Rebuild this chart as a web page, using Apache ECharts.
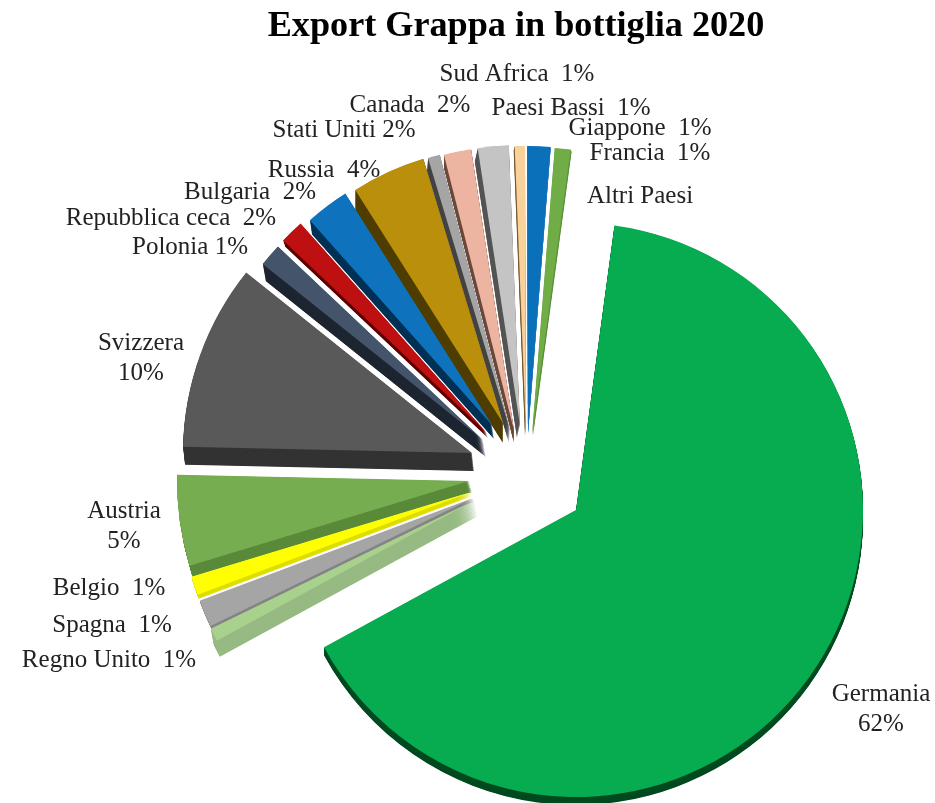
<!DOCTYPE html>
<html><head><meta charset="utf-8">
<script src="https://cdn.jsdelivr.net/npm/echarts@6/dist/echarts.min.js"></script>
<style>html,body{margin:0;padding:0;background:#fff}#c{width:935px;height:803px}</style>
</head><body><div id="c"></div>
<script>
// Data, clockwise from the Germania slice
const categories = ['Germania','Regno Unito','Spagna','Belgio','Austria','Svizzera','Polonia','Repubblica ceca','Bulgaria','Russia','Stati Uniti','Canada','Sud Africa','Paesi Bassi','Giappone','Francia','Altri Paesi'];
const sliceShares = [64.92,0.72,1.50,1.03,5.03,10.39,1.31,1.39,2.58,4.33,0.69,1.56,1.78,0.58,1.31,0.89,0];
const labelTexts = ['Germania\n62%','Regno Unito  1%','Spagna  1%','Belgio  1%','Austria\n5%','Svizzera\n10%','Polonia 1%','Repubblica ceca  2%','Bulgaria  2%','Russia  4%','Stati Uniti 2%','Canada  2%','Sud Africa  1%','Paesi Bassi  1%','Giappone  1%','Francia  1%','Altri Paesi'];

// Layout and style, separate from the data
const firstAngle = 7.7;
const apex = [[576,510],[475,500],[473,498],[471,492],[469,481],[472,453],[483,440],[486,432],[492,425],[503,423],[510,430],[514,430],[520,425],[526,432],[528,432],[532,434],[532,434]];
const radii = [287,294,292,292,292,289,282,279,274,276,284,284,280,286,286,287,287];
const tops = ['#07AB50','#A9D18E','#A5A5A5','#FFFF00','#76AD50','#595959','#44546A','#BE1010','#0E72BC','#BA8F0C','#A5A5A5','#EDB5A1','#C4C4C4','#F8D29A','#0B70BA','#70AD47','#70AD47'];
const sides = ['#004A20','#97BA83','#858585','#DDDD00','#5A8A3A','#333333','#1C2530','#5E0000','#003054','#4F3D00','#444444','#6B4A3E','#555555','#7A5A30','#3F86C4','#5C9038','#5C9038'];
const depth = [[0,8],[3,16],[1,3],[1,4],[3,11],[2,18],[3,17],[2,6],[2,14],[0,20],[-1,13],[0,13],[-3,13],[-1,4],[0,2],[1,2],[0,0]];
const labelAt = [[881,708],[109,659],[112,624],[109,587],[124,525],[141,357],[190,246],[171,217],[250,191],[324,169],[344,129],[410,104],[517,73],[571,107],[640,127],[650,152],[640,195]];
const fontFamily = '"Liberation Serif", serif';

function wedge(i, cx, cy, color, z) {
  const start = firstAngle + sliceShares.slice(0,i).reduce((a,b)=>a+b,0)*3.6;
  return {
    type:'pie', silent:true, animation:false, z:z, clockwise:true,
    center:[cx,cy], radius:[0,radii[i]], startAngle:90-start, minAngle:0,
    avoidLabelOverlap:false, stillShowZeroSum:true,
    emphasis:{disabled:true},
    label:{show:false}, labelLine:{show:false},
    data:[
      {name:categories[i], value:sliceShares[i], itemStyle:{color:color, borderWidth:0}},
      {name:'', value:100-sliceShares[i], itemStyle:{color:'rgba(0,0,0,0)', borderWidth:0}}
    ]
  };
}

const series = [];
categories.forEach((c,i)=>{
  const [dx,dy] = depth[i];
  const steps = Math.ceil(dy/0.6);
  for (let s=steps; s>=1; s--) {
    series.push(wedge(i, apex[i][0]+dx*s/steps, apex[i][1]+dy*s/steps, sides[i], 2+i*0.01));
  }
});
categories.forEach((c,i)=>{
  series.push(wedge(i, apex[i][0], apex[i][1], tops[i], 3));
});

const labels = categories.map((c,i)=>({
  type:'text', x:labelAt[i][0], y:labelAt[i][1]+1, z:10, silent:true,
  style:{text:labelTexts[i], fill:'#222', font:'25px '+fontFamily, lineHeight:30, align:'center', verticalAlign:'middle'}
}));

const chart = echarts.init(document.getElementById('c'), null, {renderer:'canvas'});
chart.setOption({
  backgroundColor:'#fff', animation:false,
  title:{text:'Export Grappa in bottiglia 2020', left:511, top:4, textAlign:'center',
    textStyle:{fontFamily:fontFamily, fontWeight:'bold', fontSize:36.2, color:'#000'}},
  series:series,
  graphic:{elements:labels}
});
</script></body></html>
